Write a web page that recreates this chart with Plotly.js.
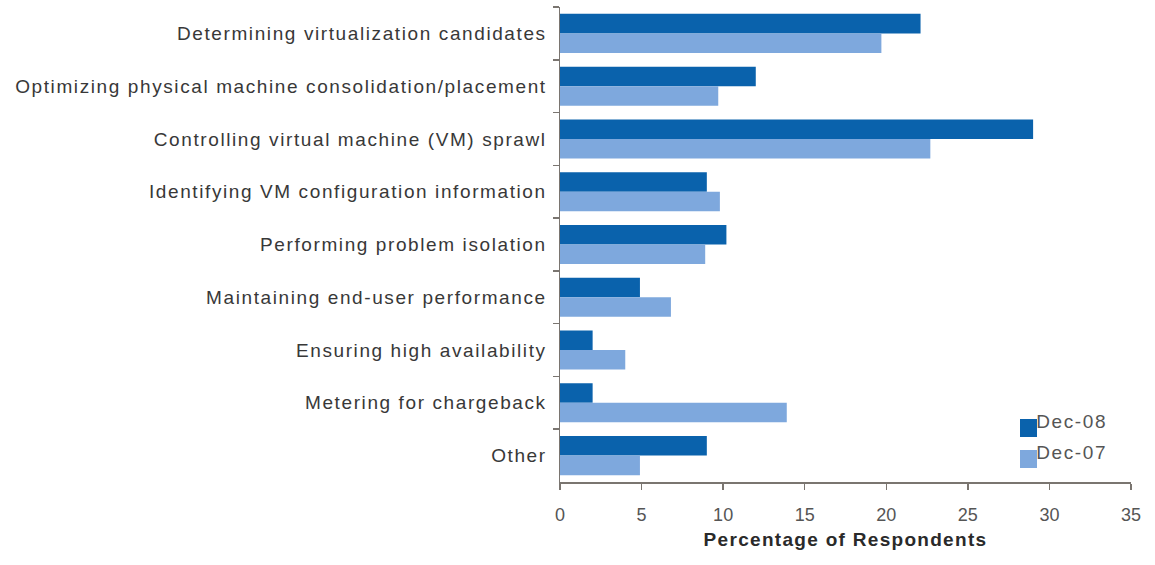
<!DOCTYPE html>
<html>
<head>
<meta charset="utf-8">
<script src="https://cdn.plot.ly/plotly-3.0.1.min.js"></script>
<style>
  html, body { margin: 0; padding: 0; background: #fff; }
  #chart { width: 1155px; height: 565px; }
  /* wide, airy lettering for the category and legend labels */
  #chart .ytick text { letter-spacing: 1.6px; }
  #chart .g-xtitle text { letter-spacing: 1.3px; }
  #chart .annotation-text { letter-spacing: 1.6px; }
</style>
</head>
<body>
<div id="chart"></div>
<script>
// Virtualization management challenges, share of respondents by survey
const categories = [
  "Determining virtualization candidates",
  "Optimizing physical machine consolidation/placement",
  "Controlling virtual machine (VM) sprawl",
  "Identifying VM configuration information",
  "Performing problem isolation",
  "Maintaining end-user performance",
  "Ensuring high availability",
  "Metering for chargeback",
  "Other"
];
const seriesNames = ["Dec-08", "Dec-07"];
const dec08 = [22.1, 12.0, 29.0, 9.0, 10.2, 4.9, 2.0, 2.0, 9.0];
const dec07 = [19.7, 9.7, 22.7, 9.8, 8.9, 6.8, 4.0, 13.9, 4.9];
const xTicks = [0, 5, 10, 15, 20, 25, 30, 35];

const seriesColors = ["#0A62AC", "#7EA8DD"];
const textColor = "#383838";
const fontFamily = "Liberation Sans, Arial, sans-serif";

const W = 1155, H = 565;
const margin = { l: 560, r: 24, t: 7, b: 83 };
const plotW = W - margin.l - margin.r;
const plotH = H - margin.t - margin.b;
// pixel position on the page -> paper fraction
const px = v => (v - margin.l) / plotW;
const py = v => (H - margin.b - v) / plotH;

const traces = [dec08, dec07].map((vals, i) => ({
  type: "bar", orientation: "h", name: seriesNames[i],
  y: categories, x: vals,
  marker: { color: seriesColors[i] },
  showlegend: false
}));

// Legend: swatch + label per series, stacked in the lower right
const legendTop = 419, legendStep = 31, sw = 17;
const shapes = seriesNames.map((n, i) => ({
  type: "rect", xref: "paper", yref: "paper",
  x0: px(1020), x1: px(1020 + sw),
  y0: py(legendTop + i * legendStep + sw + 1), y1: py(legendTop + i * legendStep),
  fillcolor: seriesColors[i], line: { width: 0 }
}));
const annotations = seriesNames.map((n, i) => ({
  text: n, xref: "paper", yref: "paper", showarrow: false,
  x: px(1039), y: py(legendTop + i * legendStep + 2),
  xanchor: "left", yanchor: "middle",
  font: { size: 19, color: "#555" }
}));

const layout = {
  width: W, height: H,
  margin: margin,
  paper_bgcolor: "#ffffff",
  plot_bgcolor: "#ffffff",
  barmode: "group",
  bargap: 0.26,
  bargroupgap: 0,
  showlegend: false,
  font: { family: fontFamily, size: 19, color: textColor },
  shapes: shapes,
  annotations: annotations,
  xaxis: {
    range: [0, 35],
    tickvals: xTicks,
    ticktext: xTicks.map(String),
    showgrid: false, zeroline: false,
    showline: true, linecolor: "#7a7570", linewidth: 1.5,
    ticks: "outside", ticklen: 6, tickcolor: "#7a7570", tickwidth: 1.5,
    ticklabelstandoff: 10,
    tickfont: { size: 18, color: "#555" },
    title: { text: "<b>Percentage of Respondents</b>", font: { size: 19, color: "#2a2a2a" }, standoff: 8 }
  },
  yaxis: {
    type: "category",
    autorange: "reversed",
    showgrid: false, zeroline: false,
    showline: true, linecolor: "#7a7570", linewidth: 1.5,
    ticks: "outside", ticklen: 6, tickcolor: "#7a7570", tickwidth: 1.5,
    tickson: "boundaries",
    ticklabelstandoff: 8,
    tickfont: { size: 19, color: textColor }
  }
};

Plotly.newPlot("chart", traces, layout, { displayModeBar: false, staticPlot: true });
</script>
</body>
</html>
